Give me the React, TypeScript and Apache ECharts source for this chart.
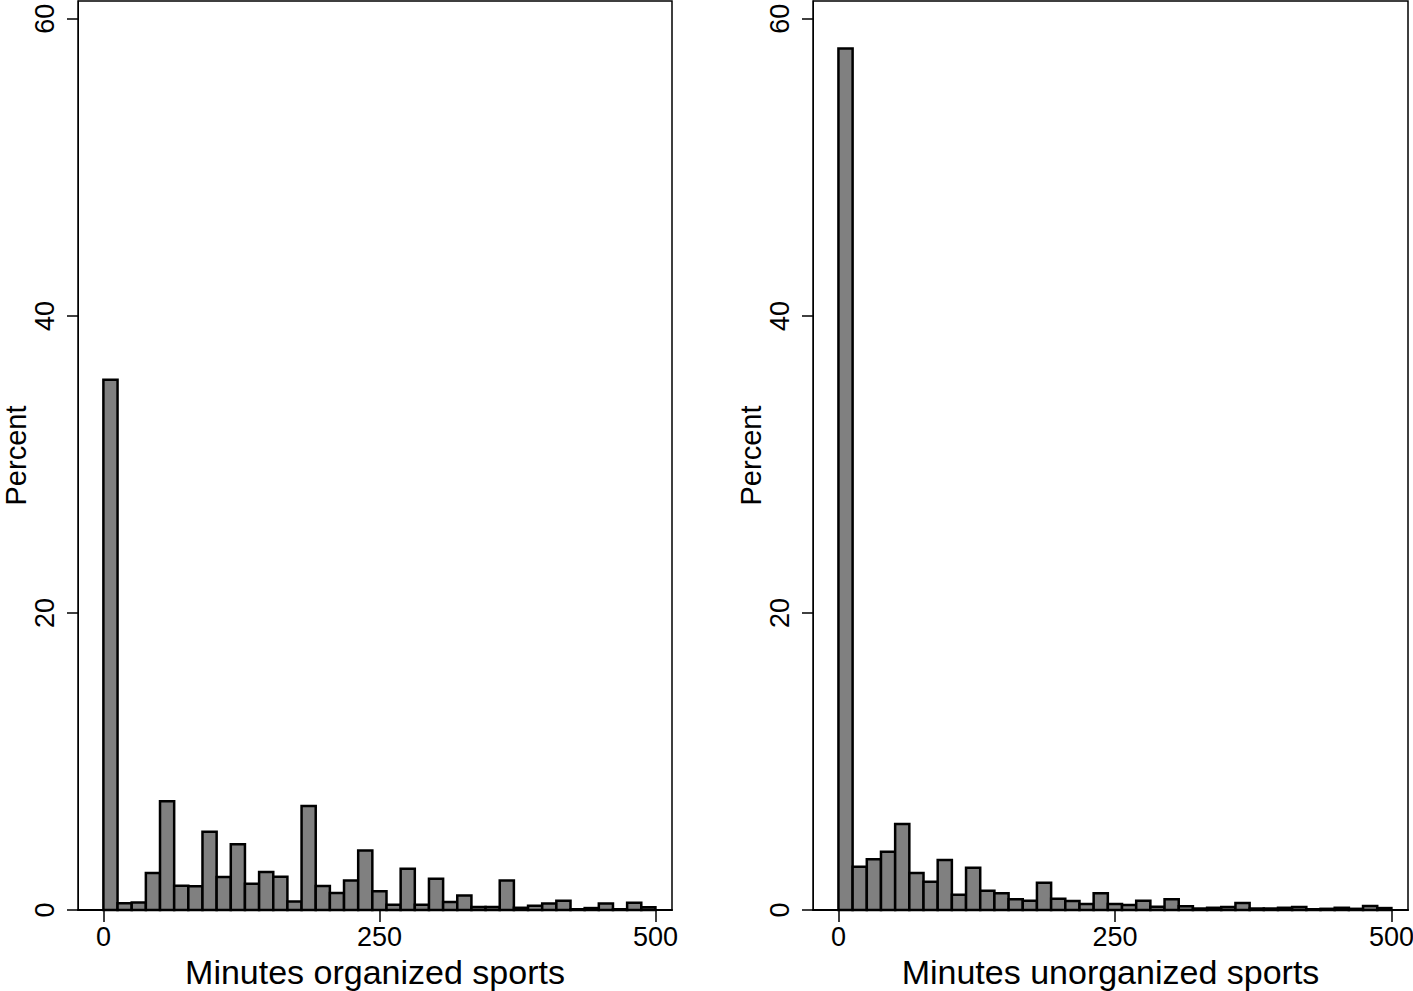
import React, { useEffect, useRef } from "react";
import * as echarts from "echarts";

// Histogram data (percent per bin), 39 equal bins covering 0–500 minutes
const BIN_COUNT = 39;
const RANGE_MAX = 500;
const organizedPct = [
  35.7, 0.45, 0.5, 2.49, 7.32, 1.64, 1.6, 5.27, 2.22, 4.42, 1.77, 2.56, 2.24,
  0.58, 7.0, 1.62, 1.15, 1.98, 4.0, 1.26, 0.36, 2.78, 0.36, 2.11, 0.54, 0.97,
  0.2, 0.2, 1.98, 0.15, 0.29, 0.43, 0.63, 0.05, 0.13, 0.43, 0.05, 0.49, 0.18,
];
const unorganizedPct = [
  58.0, 2.92, 3.41, 3.93, 5.79, 2.49, 1.91, 3.37, 1.03, 2.85, 1.3, 1.12, 0.72,
  0.63, 1.84, 0.76, 0.61, 0.4, 1.12, 0.4, 0.34, 0.63, 0.22, 0.72, 0.25, 0.1,
  0.15, 0.2, 0.47, 0.1, 0.1, 0.15, 0.2, 0.05, 0.08, 0.15, 0.08, 0.27, 0.13,
];
const xTicks = [0, 250, 500];
const yTicks = [0, 20, 40, 60];
const xTitles = ["Minutes organized sports", "Minutes unorganized sports"];
const yTitle = "Percent";

const FONT = "'Liberation Sans', Arial, Helvetica, sans-serif";

export default function App() {
  const ref = useRef<HTMLDivElement>(null);

  useEffect(() => {
    if (!ref.current) return;
    const chart = echarts.init(ref.current, undefined, { renderer: "svg" });
    const binW = RANGE_MAX / BIN_COUNT;
    const toData = (arr: number[]) =>
      arr.map((v, i) => [i * binW, (i + 1) * binW, v]);

    const renderItem = (params: any, api: any) => {
      const lo = api.value(0);
      const hi = api.value(1);
      const v = api.value(2);
      const p1 = api.coord([lo, v]);
      const p2 = api.coord([hi, 0]);
      return {
        type: "rect",
        shape: { x: p1[0], y: p1[1], width: p2[0] - p1[0], height: p2[1] - p1[1] },
        style: { fill: "#808080", stroke: "#000000", lineWidth: 2.5 },
      };
    };

    const grids = [
      { left: 78, top: 1, width: 594, height: 909 },
      { left: 813, top: 1, width: 595, height: 909 },
    ];

    const xAxes = grids.map((_, i) => ({
      gridIndex: i,
      type: "value",
      min: -23,
      max: 515,
      name: xTitles[i],
      nameLocation: "middle",
      nameGap: 33,
      nameTextStyle: { fontFamily: FONT, fontSize: 34, color: "#000" },
      axisLine: { show: true, onZero: false, lineStyle: { color: "#000", width: 2 } },
      axisTick: { show: true, length: 12, customValues: xTicks, lineStyle: { color: "#000", width: 1.5 } },
      axisLabel: { customValues: xTicks, fontFamily: FONT, fontSize: 27, color: "#000", margin: 13 },
      splitLine: { show: false },
    }));

    const yAxes = grids.map((_, i) => ({
      gridIndex: i,
      type: "value",
      min: 0,
      max: 61.2,
      name: yTitle,
      nameLocation: "middle",
      nameGap: 47,
      nameTextStyle: { fontFamily: FONT, fontSize: 29, color: "#000" },
      axisLine: { show: true, onZero: false, lineStyle: { color: "#000", width: 1 } },
      axisTick: { show: true, length: 11, customValues: yTicks, lineStyle: { color: "#000", width: 1.5 } },
      axisLabel: { customValues: yTicks, rotate: 90, fontFamily: FONT, fontSize: 27, color: "#000", margin: 20 },
      splitLine: { show: false },
    }));

    chart.setOption({
      animation: false,
      backgroundColor: "#ffffff",
      grid: grids.map((g) => ({
        ...g,
        outerBoundsMode: "none",
        containLabel: false,
        show: true,
        borderColor: "#000",
        borderWidth: 1.5,
        backgroundColor: "#fff",
      })),
      xAxis: xAxes,
      yAxis: yAxes,
      series: [
        { type: "custom", xAxisIndex: 0, yAxisIndex: 0, renderItem, data: toData(organizedPct), encode: { x: [0, 1], y: 2 } },
        { type: "custom", xAxisIndex: 1, yAxisIndex: 1, renderItem, data: toData(unorganizedPct), encode: { x: [0, 1], y: 2 } },
      ],
    });
    return () => chart.dispose();
  }, []);

  return (
    <div
      ref={ref}
      style={{ position: "fixed", left: 0, top: 0, width: 1413, height: 991, background: "#fff" }}
    />
  );
}
